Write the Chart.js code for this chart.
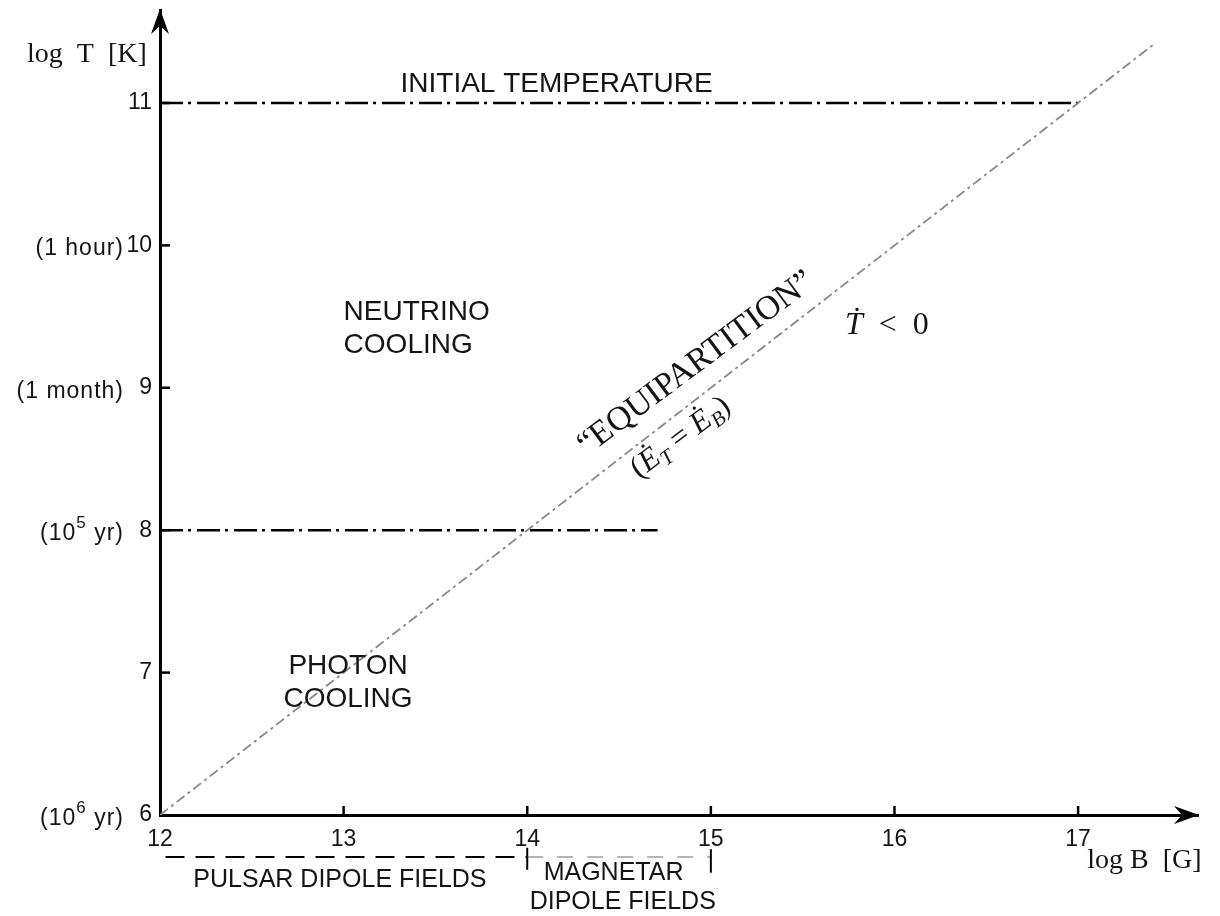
<!DOCTYPE html>
<html>
<head>
<meta charset="utf-8">
<title>Neutron star cooling regimes: log T versus log B</title>
<script src="https://cdn.jsdelivr.net/npm/chart.js@4.4.1/dist/chart.umd.min.js"></script>
<style>
  html, body { margin: 0; padding: 0; background: #fff; }
  #wrap { width: 1220px; height: 916px; }
</style>
</head>
<body>
<div id="wrap"><canvas id="c" width="1220" height="916"></canvas></div>
<script>
// ---- values ----
const xTicks = [12, 13, 14, 15, 16, 17];          // log B [G]
const yTicks = [6, 7, 8, 9, 10, 11];              // log T [K]
const yTickNotes = {                              // age / time notes beside the T ticks
  10: [['(1 hour)']],
  9:  [['(1 month)']],
  8:  [['(10'], ['5', 'sup'], [' yr)']],
  6:  [['(10'], ['6', 'sup'], [' yr)']]
};

// "equipartition" line, Ė_T = Ė_B  (log T rises one decade per decade of B)
const equipartitionB = [12, 17.42];
const equipartitionT = [6, 11.42];

// initial temperature level
const initialB = [12, 17];
const initialT = [11, 11];

// neutrino / photon cooling boundary
const boundaryB = [12, 14.71];
const boundaryT = [8, 8];

// dipole field ranges (strip drawn just under the B axis)
const pulsarB   = [12.03, 14];
const magnetarB = [14, 15];
const fieldStripT = [5.705, 5.705];

const pts = (bs, ts) => bs.map((b, i) => ({ x: b, y: ts[i] }));

// ---- decorations drawn through the scales ----
const decor = {
  id: 'decor',
  afterDatasetsDraw(chart) {
    const { ctx, chartArea: a, scales: { x, y } } = chart;
    const X = v => x.getPixelForValue(v);
    const Y = v => y.getPixelForValue(v);
    const ink = '#141414';

    ctx.save();
    ctx.strokeStyle = '#000';
    ctx.fillStyle = '#000';
    ctx.lineCap = 'butt';

    const seg = (x1, y1, x2, y2, w) => {
      ctx.lineWidth = w;
      ctx.beginPath(); ctx.moveTo(x1, y1); ctx.lineTo(x2, y2); ctx.stroke();
    };

    // inward tick marks
    xTicks.slice(1).forEach(v => seg(X(v), a.bottom, X(v), a.bottom - 9, 2.5));
    yTicks.slice(1).forEach(v => seg(a.left, Y(v), a.left + 10, Y(v), 2.5));

    // arrowheads at the ends of both axes
    const arrow = (tx, ty, ang) => {
      ctx.save();
      ctx.translate(tx, ty); ctx.rotate(ang);
      ctx.beginPath();
      ctx.moveTo(1, 0); ctx.lineTo(-24, -9); ctx.lineTo(-16, 0); ctx.lineTo(-24, 9);
      ctx.closePath(); ctx.fill();
      ctx.restore();
    };
    arrow(a.right, a.bottom, 0);
    arrow(a.left, a.top, -Math.PI / 2);

    // end bars of the field strip
    seg(X(14), Y(5.77), X(14), Y(5.615), 2);
    seg(X(15), Y(5.76), X(15), Y(5.595), 2);

    ctx.fillStyle = ink;

    // notes beside the T tick labels
    const runs = (parts, rightX, base, size) => {
      const widths = parts.map(([t, kind]) => {
        ctx.font = (kind === 'sup' ? 17 : size) + 'px "Liberation Sans", Arial, sans-serif';
        return ctx.measureText(t).width;
      });
      let cx = rightX - widths.reduce((s, w) => s + w, 0);
      ctx.textAlign = 'left'; ctx.textBaseline = 'alphabetic';
      parts.forEach(([t, kind], i) => {
        ctx.font = (kind === 'sup' ? 17 : size) + 'px "Liberation Sans", Arial, sans-serif';
        ctx.fillText(t, cx, kind === 'sup' ? base - 12 : base);
        cx += widths[i];
      });
    };
    ctx.letterSpacing = '1px';
    Object.keys(yTickNotes).forEach(k => {
      runs(yTickNotes[k], a.left - 36, Y(+k) + 10, 23);
    });
    ctx.letterSpacing = '0px';

    // region labels
    const sans = s => s + 'px "Liberation Sans", Arial, sans-serif';
    const serif = (s, it) => (it ? 'italic ' : '') + s + 'px "Liberation Serif", "Times New Roman", serif';
    const text = (t, px, py, font, align, base) => {
      ctx.font = font; ctx.textAlign = align || 'center'; ctx.textBaseline = base || 'middle';
      ctx.fillText(t, px, py);
    };

    text('INITIAL TEMPERATURE', X(14.16), Y(11.13), sans(28));
    text('NEUTRINO', X(13.0), Y(9.532), sans(28), 'left');
    text('COOLING',  X(13.0), Y(9.30),  sans(28), 'left');
    text('PHOTON',   X(13.024), Y(7.046), sans(28));
    text('COOLING',  X(13.024), Y(6.815), sans(28));

    text('PULSAR DIPOLE FIELDS', X(12.98), Y(5.545), sans(25));
    text('MAGNETAR',      X(14.47), Y(5.593), sans(25));
    text('DIPOLE FIELDS', X(14.52), Y(5.39),  sans(25));

    // axis titles
    text('log  T  [K]', a.left - 133, Y(11.29), serif(28), 'left', 'alphabetic');
    text('log B  [G]',  X(17.05), Y(5.625), serif(28), 'left', 'alphabetic');

    // Ṫ < 0
    const tx = X(15.73), ty = Y(9.38);
    ctx.font = serif(32, true); ctx.textAlign = 'left'; ctx.textBaseline = 'alphabetic';
    ctx.fillText('Ṫ', tx, ty);
    const tw = ctx.measureText('Ṫ').width;
    ctx.font = serif(32);
    ctx.fillText('  <  0', tx + tw, ty);

    // equipartition labels, laid along the line
    const ang = Math.atan2(Y(11) - Y(6), X(17) - X(12)) + 0.02;
    ctx.save();
    ctx.translate(X(14.92), Y(9.17)); ctx.rotate(ang);
    text('“EQUIPARTITION”', 0, 0, serif(34));
    ctx.restore();

    ctx.save();
    ctx.translate(X(14.83), Y(8.66)); ctx.rotate(ang);
    const eq = [['(', 31, false, 0], ['Ė', 31, true, 0], ['T', 21, true, 6],
                [' = ', 31, false, 0], ['Ė', 31, true, 0], ['B', 21, true, 6], [')', 31, false, 0]];
    const ew = eq.map(([t, s, it]) => { ctx.font = serif(s, it); return ctx.measureText(t).width; });
    let ex = -ew.reduce((s, w) => s + w, 0) / 2;
    ctx.textAlign = 'left'; ctx.textBaseline = 'alphabetic';
    eq.forEach(([t, s, it, dy], i) => {
      ctx.font = serif(s, it);
      ctx.fillText(t, ex, 10 + dy);
      ex += ew[i];
    });
    ctx.restore();

    ctx.restore();
  }
};

Chart.defaults.font.family = '"Liberation Sans", Arial, sans-serif';
Chart.defaults.color = '#141414';

const dashDot = [23, 5, 3, 6];

new Chart(document.getElementById('c'), {
  type: 'line',
  data: {
    datasets: [
      { data: pts(equipartitionB, equipartitionT), borderColor: '#888888', borderWidth: 1.8,
        borderDash: [10, 4, 3, 4] },
      { data: pts(initialB, initialT), borderColor: '#000', borderWidth: 2.5, borderDash: dashDot },
      { data: pts(boundaryB, boundaryT), borderColor: '#000', borderWidth: 2.5, borderDash: dashDot },
      { data: pts(pulsarB, fieldStripT), borderColor: '#000', borderWidth: 2.2, borderDash: [19, 11], clip: false },
      { data: pts(magnetarB, fieldStripT), borderColor: '#b4b4b4', borderWidth: 1.8, borderDash: [16, 14], clip: false }
    ]
  },
  options: {
    responsive: false,
    animation: false,
    events: [],
    parsing: false,
    elements: { point: { radius: 0 }, line: { tension: 0, fill: false } },
    layout: { padding: { top: 10, right: 22, bottom: 0, left: 0 } },
    plugins: { legend: { display: false }, tooltip: { enabled: false } },
    scales: {
      x: {
        type: 'linear', min: 12, max: 17.653,
        grid: { display: false, drawTicks: false },
        border: { display: true, color: '#000', width: 3 },
        ticks: { font: { size: 23 }, color: '#141414', padding: 11, maxRotation: 0 },
        afterBuildTicks: s => { s.ticks = xTicks.map(v => ({ value: v })); },
        afterFit: s => { s.height = 101; s.paddingLeft = 0; s.paddingRight = 0; }
      },
      y: {
        type: 'linear', min: 6, max: 11.653,
        grid: { display: false, drawTicks: false },
        border: { display: true, color: '#000', width: 3 },
        ticks: { font: { size: 23 }, color: '#141414', padding: 8 },
        afterBuildTicks: s => { s.ticks = yTicks.map(v => ({ value: v })); },
        afterFit: s => { s.width = 160; s.paddingTop = 0; s.paddingBottom = 0; }
      }
    }
  },
  plugins: [decor]
});
</script>
</body>
</html>
